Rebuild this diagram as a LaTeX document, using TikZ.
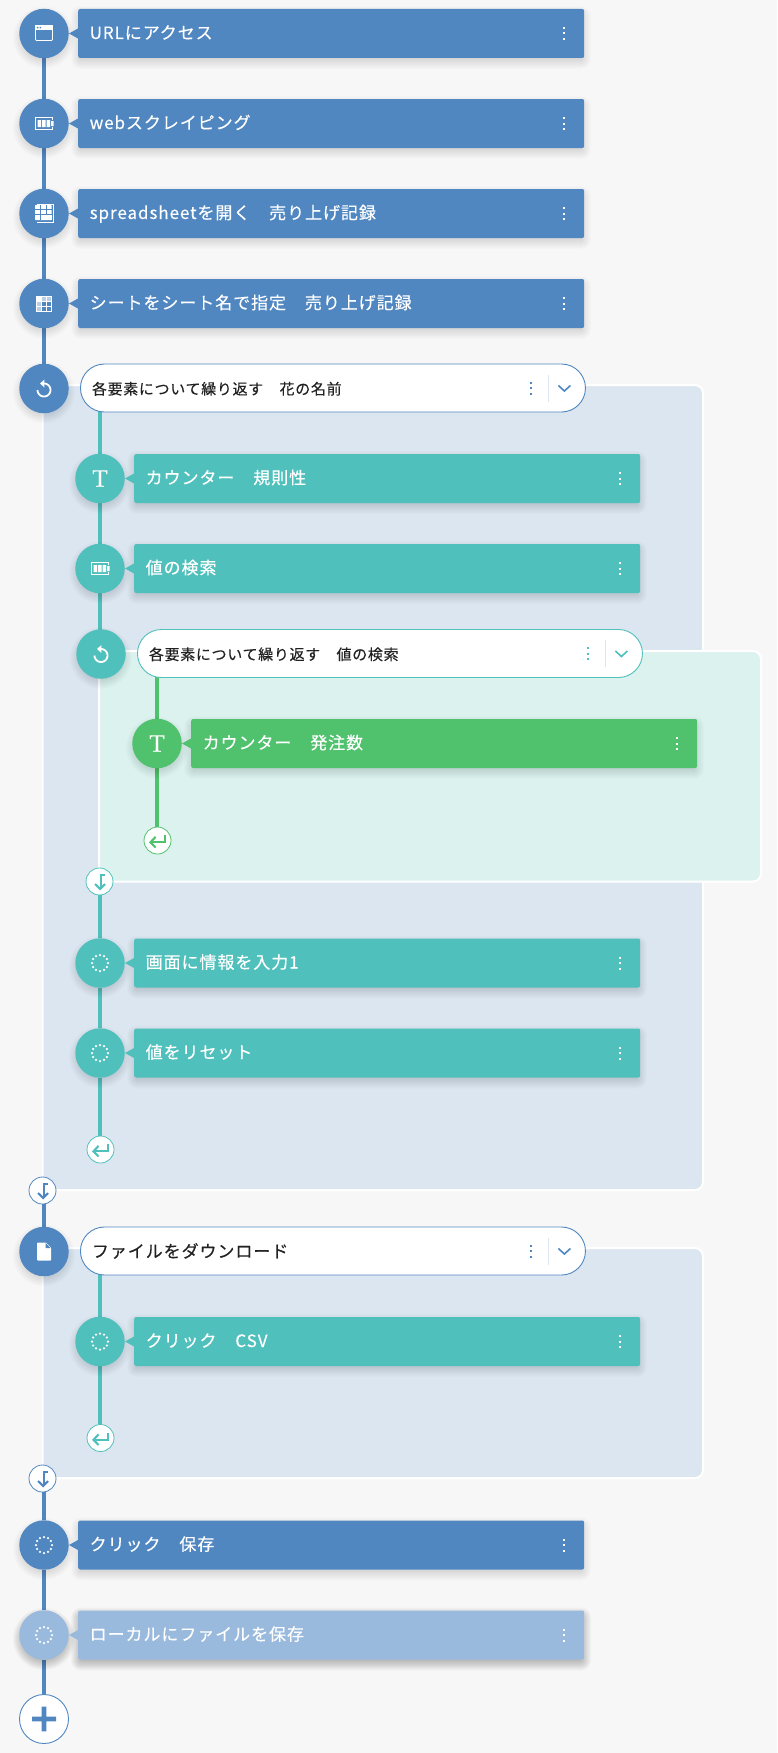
\documentclass[tikz,border=0pt]{standalone}
\usepackage{fontspec}
\setmainfont{Noto Sans CJK JP}
\newfontfamily\jpbig[LetterSpace=5.5,FakeBold=0.25]{Noto Sans CJK JP}
\newfontfamily\jppill[LetterSpace=4.5,FakeBold=0.15]{Noto Sans CJK JP}
\newfontfamily\tfont[FakeBold=0.5]{Liberation Serif}
\definecolor{bluec}{HTML}{5087C1}
\definecolor{paleblue}{HTML}{9ABADD}
\definecolor{tealc}{HTML}{50C0BC}
\definecolor{greenc}{HTML}{50C16C}
\definecolor{panelblue}{HTML}{DCE6F1}
\definecolor{panelteal}{HTML}{DCF2EF}
\definecolor{pagebg}{HTML}{F7F7F7}
\definecolor{inkc}{HTML}{222222}
\pgfdeclarelayer{panels}
\pgfdeclarelayer{lines}
\pgfsetlayers{panels,lines,main}
\def\shadowop{.011}
\tikzset{
  x=1pt,y=-1pt,
  stepc/.style={circle,minimum size=49.5pt,inner sep=0pt,draw=none},
  stepb/.style={rectangle,rounded corners=2pt,minimum width=506pt,minimum height=49pt,inner xsep=11.5pt,inner ysep=0pt,text width=483pt,align=left,text=white,text height=13pt,text depth=2pt,font=\jpbig\fontsize{17}{19}\selectfont},
  pillb/.style={rectangle,rounded corners=24pt,fill=white,minimum width=505pt,minimum height=48pt,inner xsep=11.5pt,inner ysep=0pt,text width=482pt,align=left,text=inkc,text height=14pt,text depth=1pt,line width=.9pt},
  smallc/.style={circle,minimum size=27pt,inner sep=0pt,fill=white,line width=.8pt},
  flow/.style={line width=4pt},
  panelbox/.style={draw=white,line width=2pt,rounded corners=8pt},
  pics/win/.style={code={
    \draw[white,line width=.9pt,rounded corners=1pt] (-8.5,-7.5) rectangle (8.5,7);
    \fill[white] (-9,-8) rectangle (9,-3.5);
    \fill[bluec] (-7.2,-6.6) rectangle (-5.6,-5) (-4.5,-6.6) rectangle (-2.9,-5);
  }},
  pics/scrape/.style={code={
    \draw[white,line width=.7pt] (8,-3.2) -- (8,-6) -- (-8.5,-6) -- (-8.5,6) -- (8,6) -- (8,3.2);
    \fill[white] (-6.5,-3.5) rectangle (-3,3.5) (-2,-3.5) rectangle (1.5,3.5) (2.5,-3.5) rectangle (6,3.5) (7,-2.5) rectangle (9.5,2.5);
  }},
  pics/opensheet/.style={code={
    \draw[white,line width=.7pt] (-7,-9) -- (9,-9) -- (9,8.5) -- (-7,8.5);
    \fill[white,rounded corners=.6pt] (-9,-8.5) rectangle (7.5,6.5);
    \draw[bluec,line width=.7pt] (-9,-4) -- (7.5,-4) (-9,1) -- (7.5,1) (-3.5,-8.5) -- (-3.5,6.5) (2,-8.5) -- (2,6.5);
    \fill[white] (2,1) rectangle (7.5,6.5);
  }},
  pics/sheet/.style={code={
    \draw[white,line width=.7pt] (-7.5,-7.5) rectangle (7.5,7.5) (-7.5,-2.5) -- (7.5,-2.5) (-7.5,2.5) -- (7.5,2.5) (-2.5,-7.5) -- (-2.5,7.5) (2.5,-7.5) -- (2.5,7.5);
    \fill[white] (-7.5,-7.5) rectangle (-2.5,-2.5);
    \fill[white,opacity=.6] (-2.5,-7.5) rectangle (7.5,-2.5) (-7.5,-2.5) rectangle (-2.5,7.5);
  }},
  pics/loopicon/.style={code={
    \draw[white,line width=1.8pt] plot[smooth,domain=-90:180,samples=30] ({6.5*cos(\x)},{1.5+6.5*sin(\x)});
    \fill[white] (-4,-5) -- (0.3,-8.8) -- (0.3,-1.2) -- cycle;
  }},
  pics/tee/.style={code={
    \node[text=white,inner sep=0pt,font=\tfont\fontsize{25}{25}\selectfont] at (0,0) {T};
  }},
  pics/fileicon/.style={code={
    \fill[white,rounded corners=.8pt] (-7,-9) -- (2,-9) -- (7.2,-3.8) -- (7.2,9) -- (-7,9) -- cycle;
    \fill[bluec] (1.6,-8.5) -- (6.6,-3.5) -- (1.6,-3.5) -- cycle;
  }},
  pics/dotring/.style={code={
    \foreach \a in {0,30,...,330}{\fill[white] ({8*cos(\a)},{8*sin(\a)}) circle (1.25);}
  }},
  pics/ret/.style={code={
    \draw[#1,line width=2pt] (7.5,-5.5) -- (7.5,1.8) -- (-7,1.8);
    \draw[#1,line width=2.1pt] (-2,-3.6) -- (-7,1.8) -- (-2,7);
  }},
  pics/down/.style={code={
    \draw[#1,line width=2pt] (5.5,-7) -- (1,-7) -- (1,7.5);
    \draw[#1,line width=2.1pt] (-4.5,2.5) -- (0.7,7.5) -- (5.5,2.5);
  }},
  pics/plusicon/.style={code={
    \fill[bluec] (-12,-2.4) rectangle (12,2.4) (-2.4,-12.4) rectangle (2.4,12.4);
  }},
}
\newcommand\CircShadow[2]{%
  \foreach \r in {-3,...,7}{\fill[black,opacity=\shadowop] (#1,{#2+4}) circle ({24+\r});}}
\newcommand\Step[6]{%
  \CircShadow{#2}{#3}%
  \foreach \r in {-3,...,7}{\pgfmathsetmacro\rr{max(\r+3,1)}%
    \fill[black,opacity=\shadowop,rounded corners=\rr pt] ({#2+34-\r},{#3-24.5-\r+4}) rectangle ({#2+540+\r},{#3+24.5+\r+4});}%
  \node[stepc,fill=#4] (c#1) at (#2,#3) {};
  \node[stepb,fill=#4,anchor=west] (b#1) at ({#2+34},#3) {#5};
  \fill[#4] ([yshift=5pt]b#1.west) -- ([xshift=-9pt]b#1.west) -- ([yshift=-5pt]b#1.west) -- cycle;
  \foreach \d in {-5.5,0,5.5}{\fill[white] ([xshift=-21pt,yshift=\d pt-1pt]b#1.east) rectangle ([xshift=-19pt,yshift=\d pt+1pt]b#1.east);}
  \pic at (c#1) {#6};
}
\newcommand\Pill[7]{%
  \CircShadow{#2}{#3}%
  \node[stepc,fill=#4] (c#1) at (#2,#3) {};
  \node[pillb,draw=#4,anchor=west,font=#5] (b#1) at ({#2+36},{#3-.5}) {#6};
  \foreach \d in {-5.5,0,5.5}{\fill[#4] ([xshift=-55.5pt,yshift=\d pt-1pt]b#1.east) rectangle ([xshift=-53.5pt,yshift=\d pt+1pt]b#1.east);}
  \draw[panelblue,line width=.8pt] ([xshift=-37.5pt,yshift=-13.5pt]b#1.east) -- ([xshift=-37.5pt,yshift=13.5pt]b#1.east);
  \draw[#4,line width=1.6pt] ([xshift=-27.5pt,yshift=2.5pt]b#1.east) -- ([xshift=-21.5pt,yshift=-3pt]b#1.east) -- ([xshift=-15.5pt,yshift=2.5pt]b#1.east);
  \pic at (c#1) {#7};
}
\newcommand\pillA{\jppill\fontsize{15}{17}\selectfont}
\newcommand\pillB{\jpbig\fontsize{17}{19}\selectfont}
\begin{document}
\begin{tikzpicture}
\useasboundingbox (0,0) rectangle (777,1753);
\begin{pgfonlayer}{panels}
\fill[pagebg] (0,0) rectangle (777,1753);
\filldraw[panelbox,fill=panelblue] (42.5,385) rectangle (703,1190);
\filldraw[panelbox,fill=panelblue] (42.5,1248) rectangle (703,1478);
\filldraw[panelbox,fill=panelteal] (99,651) rectangle (761,881.5);
\end{pgfonlayer}

\Step{1}{44}{33.5}{bluec}{URLにアクセス}{win}
\Step{2}{44}{123.5}{bluec}{webスクレイピング}{scrape}
\Step{3}{44}{213.5}{bluec}{spreadsheetを開く　売り上げ記録}{opensheet}
\Step{4}{44}{303.5}{bluec}{シートをシート名で指定　売り上げ記録}{sheet}
\Pill{5}{44}{388.5}{bluec}{\pillA}{各要素について繰り返す　花の名前}{loopicon}
\Step{6}{100}{478.5}{tealc}{カウンター　規則性}{tee}
\Step{7}{100}{568.5}{tealc}{値の検索}{scrape}
\Pill{8}{101}{654}{tealc}{\pillA}{各要素について繰り返す　値の検索}{loopicon}
\Step{9}{157}{743.5}{greenc}{カウンター　発注数}{tee}
\Step{10}{100}{963}{tealc}{画面に情報を入力1}{dotring}
\Step{11}{100}{1053}{tealc}{値をリセット}{dotring}
\Pill{12}{44}{1251.5}{bluec}{\pillB}{ファイルをダウンロード}{fileicon}
\Step{13}{100}{1341.5}{tealc}{クリック　CSV}{dotring}
\Step{14}{44}{1545}{bluec}{クリック　保存}{dotring}
\def\shadowop{.025}
\Step{15}{44}{1635}{paleblue}{ローカルにファイルを保存}{dotring}

\node[stepc,fill=white,draw=bluec,line width=.9pt,minimum size=49pt] (addc) at (44,1719) {};
\pic at (addc) {plusicon};

\node[smallc,draw=greenc] (r1) at (157.5,840.5) {};
\pic at (r1) {ret=greenc};
\node[smallc,draw=tealc] (r2) at (100.5,1149.5) {};
\pic at (r2) {ret=tealc};
\node[smallc,draw=tealc] (r3) at (100.5,1438) {};
\pic at (r3) {ret=tealc};
\node[smallc,draw=tealc] (d1) at (99.5,881.5) {};
\pic at (d1) {down=tealc};
\node[smallc,draw=bluec] (d2) at (42.5,1190.5) {};
\pic at (d2) {down=bluec};
\node[smallc,draw=bluec] (d3) at (42.5,1478.5) {};
\pic at (d3) {down=bluec};

\begin{pgfonlayer}{lines}
\draw[flow,bluec] (c1) -- (c2);
\draw[flow,bluec] (c2) -- (c3);
\draw[flow,bluec] (c3) -- (c4);
\draw[flow,bluec] (c4) -- (c5);
\draw[flow,bluec] (c12 |- d2) -- (c12);
\draw[flow,bluec] (c14 |- d3) -- (c14);
\draw[flow,bluec] (c14) -- (c15);
\draw[flow,bluec] (c15) -- (addc);
\draw[flow,tealc] (c6 |- b5) -- (c6);
\draw[flow,tealc] (c6) -- (c7);
\draw[flow,tealc] (c7) -- (c7 |- c8);
\draw[flow,tealc] (c10 |- d1) -- (c10);
\draw[flow,tealc] (c10) -- (c11);
\draw[flow,tealc] (c11) -- (c11 |- r2);
\draw[flow,tealc] (c13 |- b12) -- (c13);
\draw[flow,tealc] (c13) -- (c13 |- r3);
\draw[flow,greenc] (c9 |- b8) -- (c9);
\draw[flow,greenc] (c9) -- (c9 |- r1);
\end{pgfonlayer}
\end{tikzpicture}
\end{document}
